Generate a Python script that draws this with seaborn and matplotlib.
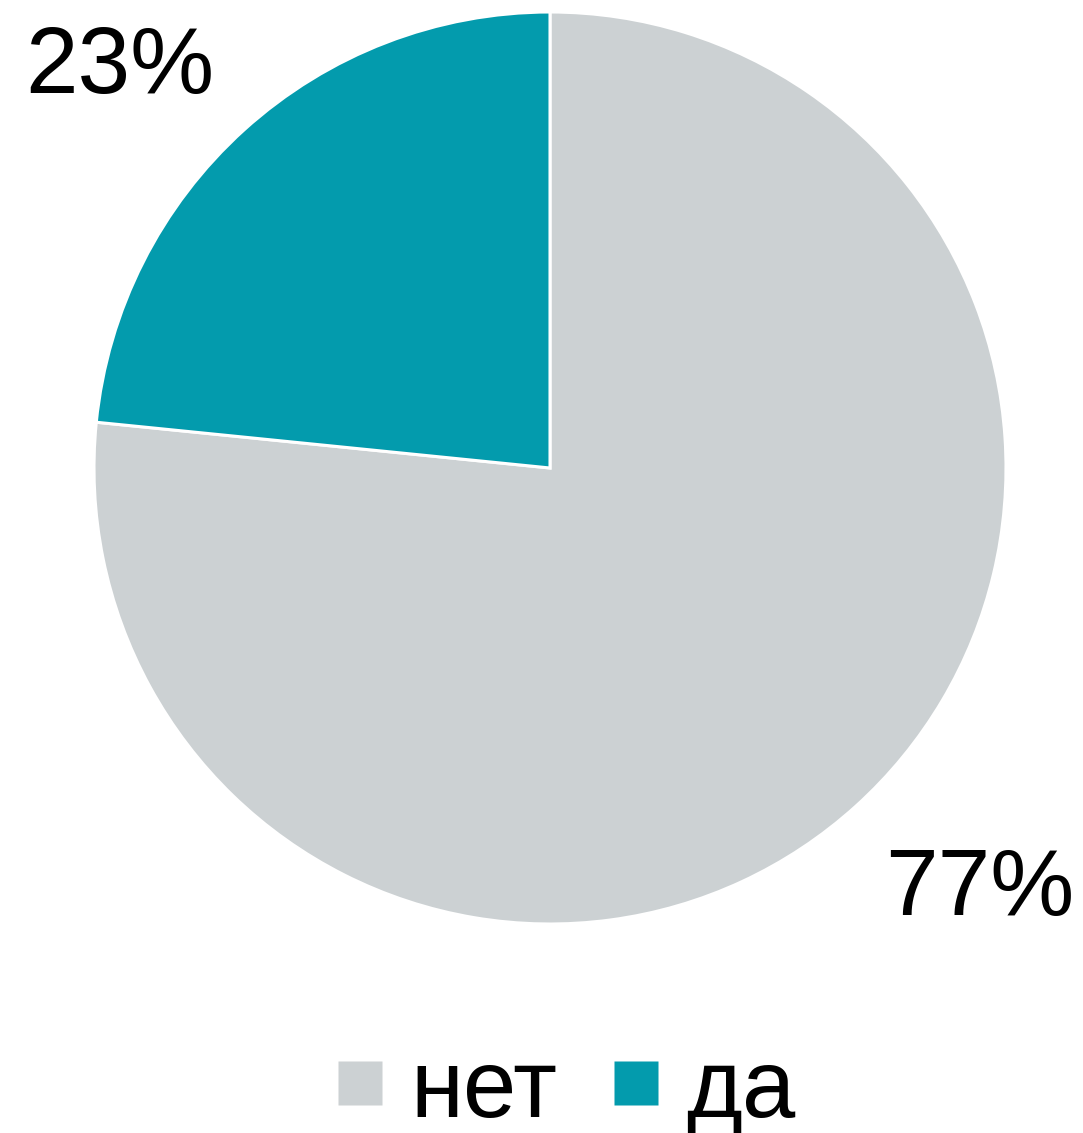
import seaborn as sns
import matplotlib
matplotlib.use("Agg")
import matplotlib.pyplot as plt
from matplotlib.lines import Line2D

categories = ["нет", "да"]
shares = [76.6, 23.4]
pct_labels = ["77%", "23%"]
colors = ["#CCD1D3", "#039BAD"]

sns.set_theme(style="white")
plt.rcParams['font.family'] = ['Liberation Sans', 'DejaVu Sans']

W, H = 1083, 1133
fig = plt.figure(figsize=(W / 100, H / 100), dpi=100)
cx, cy, r = 550, 468, 456
ax = fig.add_axes([(cx - r) / W, (H - cy - r) / H, 2 * r / W, 2 * r / H])

wedges, _ = ax.pie(shares, colors=colors, startangle=90, counterclock=False,
                   wedgeprops=dict(edgecolor="white", linewidth=2.2))
ax.set_xlim(-1, 1)
ax.set_ylim(-1, 1)
ax.set_aspect("equal")
ax.axis("off")

# percentage labels sit outside the pie (77% lower right, 23% upper left)
ax.text(0.943, -0.98, pct_labels[0], ha="center", va="baseline", fontsize=68, color="black")
ax.text(-0.943, 0.822, pct_labels[1], ha="center", va="baseline", fontsize=68, color="black")

handles = [Line2D([], [], marker="s", linestyle="", markersize=31.7,
                  markerfacecolor=c, markeredgecolor="none") for c in colors]
fig.legend(handles, categories, loc="center", bbox_to_anchor=(567 / W, 1 - 1092 / H),
           ncol=2, frameon=False, fontsize=69, labelcolor="black",
           handlelength=0.45, handletextpad=0.3, columnspacing=0.6,
           borderpad=0.1)

plt.savefig("out.png", dpi=100)
